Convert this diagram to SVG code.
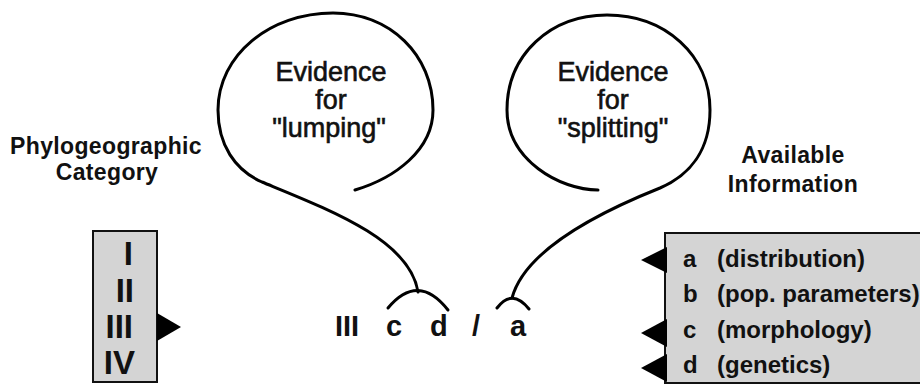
<svg xmlns="http://www.w3.org/2000/svg" width="920" height="387" viewBox="0 0 920 387">
<style>
.t{font-family:"Liberation Sans",Arial,sans-serif;fill:#111}
.b{font-weight:bold}
.sp{letter-spacing:0.35px}
.ev{stroke:#111;stroke-width:0.6}
.box{fill:#d4d4d4;stroke:#111;stroke-width:2}
.tri{fill:#000}
.ln{fill:none;stroke:#000;stroke-width:3;stroke-linecap:round}
</style>
<rect width="920" height="387" fill="#fff"/>
<g id="phylo-label">
<text class="t b sp" font-size="23" text-anchor="middle" x="106" y="154">Phylogeographic</text>
<text class="t b sp" font-size="23" text-anchor="middle" x="107" y="180">Category</text>
</g>
<g id="category-box">
<rect class="box" x="93" y="231" width="64" height="151"/>
<g class="t b" font-size="33" text-anchor="end">
<text x="133" y="265">I</text>
<text x="134" y="302">II</text>
<text x="133" y="338">III</text>
<text x="135" y="374">IV</text>
</g>
<polygon class="tri" points="157,313 181,327 157,341"/>
</g>
<g id="available-label">
<text class="t b sp" font-size="23" text-anchor="middle" x="793" y="163">Available</text>
<text class="t b sp" font-size="23" text-anchor="middle" x="793" y="192">Information</text>
</g>
<g id="info-box">
<rect class="box" x="665" y="233" width="270" height="150"/>
<g class="t b" font-size="24">
<text x="683" y="267">a</text><text x="717" y="267">(distribution)</text>
<text x="683" y="302">b</text><text x="717" y="302">(pop. parameters)</text>
<text x="683" y="338">c</text><text x="717" y="338">(morphology)</text>
<text x="683" y="373">d</text><text x="717" y="373">(genetics)</text>
</g>
<polygon class="tri" points="667,247 641,260 667,273"/>
<polygon class="tri" points="667,319 641,333 667,347"/>
<polygon class="tri" points="667,354 641,368 667,382"/>
</g>
<g id="lumping">
<g class="t ev" font-size="27" text-anchor="middle">
<text x="331" y="81">Evidence</text>
<text x="331" y="109">for</text>
<text x="329" y="137">"lumping"</text>
</g>
</g>
<g id="splitting">
<g class="t ev" font-size="27" text-anchor="middle">
<text x="613" y="81">Evidence</text>
<text x="613" y="109">for</text>
<text x="613" y="137">"splitting"</text>
</g>
</g>
<g id="formula">
<g class="t b" font-size="29">
<text x="335" y="336">III</text>
<text x="386" y="336">c</text>
<text x="430" y="336">d</text>
<text x="472" y="336">/</text>
<text x="510" y="336">a</text>
</g>
</g>
<g id="connectors">
<path class="ln" d="M355,190 C395,178 433,150 433,110 C433,55 390,13 333,13 C270,13 218,55 218,110 C218,145 235,170 262,182 C330,210 410,240 418,292"/>
<path class="ln" d="M388,308 Q418,272 448,310"/>
<path class="ln" d="M598,190 C560,190 507,160 507,110 C507,55 550,15 607,15 C665,15 710,55 710,110 C710,150 690,175 660,188 C600,212 525,250 512,298"/>
<path class="ln" d="M497,308 Q512,288 529,309"/>
</g>
</svg>
